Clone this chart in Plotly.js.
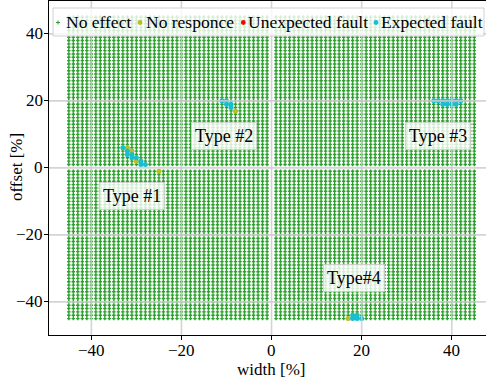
<!DOCTYPE html>
<html>
<head>
<meta charset="utf-8">
<script src="https://cdn.plot.ly/plotly-3.0.1.min.js"></script>
<style>
  html, body { margin: 0; padding: 0; background: #ffffff; }
  #chart { width: 486px; height: 383px; }
</style>
</head>
<body>
<div id="chart"></div>
<script>
// Scanned grid of glitch parameters (width and offset, in percent)
const widthSteps = [
  -45,-44,-43,-42,-41,-40,-39,-38,-37,-36,-35,-34,-33,-32,-31,-30,-29,-28,-27,-26,-25,-24,-23,
  -22,-21,-20,-19,-18,-17,-16,-15,-14,-13,-12,-11,-10,-9,-8,-7,-6,-5,-4,-3,-2,-1,
  1,2,3,4,5,6,7,8,9,10,11,12,13,14,15,16,17,18,19,20,21,22,23,
  24,25,26,27,28,29,30,31,32,33,34,35,36,37,38,39,40,41,42,43,44,45
];
const offsetSteps = [
  -45,-44,-43,-42,-41,-40,-39,-38,-37,-36,-35,-34,-33,-32,-31,-30,-29,-28,-27,-26,-25,-24,-23,
  -22,-21,-20,-19,-18,-17,-16,-15,-14,-13,-12,-11,-10,-9,-8,-7,-6,-5,-4,-3,-2,-1,
  1,2,3,4,5,6,7,8,9,10,11,12,13,14,15,16,17,18,19,20,21,22,23,
  24,25,26,27,28,29,30,31,32,33,34,35,36,37,38,39,40,41,42,43,44,45
];

// Outcomes other than "no effect"
const noResponseWidth  = [-32, -31, -30, -25, -8, 17];
const noResponseOffset = [  6,   5,   2,  -1, 17, -45];

const unexpectedWidth  = [];
const unexpectedOffset = [];

const expectedWidth  = [-33, -32, -32, -31, -31, -30, -29, -29, -28,
                        -11, -10, -10, -9, -9,
                        36, 37, 38, 39, 40, 41, 42, 38, 39, 40, 41,
                        18, 18, 19, 19, 20];
const expectedOffset = [  6,   5,   4,   4,   3,   3,   2,   1,   1,
                         20,  20,  19, 19, 18,
                         20, 20, 20, 20, 20, 20, 20, 19, 19, 19, 19,
                        -44, -45, -44, -45, -45];

// Cluster labels
const clusterLabels = ['Type #1', 'Type #2', 'Type #3', 'Type#4'];
const clusterX = [-30.9, -10.6, 37.0, 18.3];
const clusterY = [-8.5, 9.5, 9.5, -32.8];

const legendNames = ['No effect', 'No responce', 'Unexpected fault', 'Expected fault'];
const tickValues = [-40, -20, 0, 20, 40];
const tickText = ['\u221240', '\u221220', '0', '20', '40'];
const xTitle = 'width [%]';
const yTitle = 'offset [%]';

// Every grid point without a recorded fault counts as "no effect"
const faulty = new Set();
[[noResponseWidth, noResponseOffset], [unexpectedWidth, unexpectedOffset], [expectedWidth, expectedOffset]]
  .forEach(([xs, ys]) => xs.forEach((x, i) => faulty.add(x + ',' + ys[i])));
const noEffectWidth = [], noEffectOffset = [];
widthSteps.forEach(x => offsetSteps.forEach(y => {
  if (!faulty.has(x + ',' + y)) { noEffectWidth.push(x); noEffectOffset.push(y); }
}));

const GREEN = '#2ca02c', OLIVE = '#bcbd22', RED = '#ff0000', CYAN = '#17becf';
const FONT = 'Liberation Serif, Times New Roman, serif';

const M = { l: 49, r: 0, t: 1, b: 48 };
const W = 486, H = 383;
const PW = W - M.l - M.r, PH = H - M.t - M.b;
const px = v => (v - M.l) / PW;            // pixel column -> paper x
const py = v => (H - M.b - v) / PH;        // pixel row -> paper y

const traces = [
  { x: noEffectWidth, y: noEffectOffset, type: 'scatter', mode: 'markers', name: legendNames[0],
    marker: { symbol: 'cross-thin', size: 2.5, color: GREEN, line: { color: GREEN, width: 1.4 } },
    hoverinfo: 'skip' },
  { x: noResponseWidth, y: noResponseOffset, type: 'scatter', mode: 'markers', name: legendNames[1],
    marker: { symbol: 'circle', size: 5, color: OLIVE, line: { width: 0 } } },
  { x: unexpectedWidth, y: unexpectedOffset, type: 'scatter', mode: 'markers', name: legendNames[2],
    marker: { symbol: 'circle', size: 5, color: RED, line: { width: 0 } } },
  { x: expectedWidth, y: expectedOffset, type: 'scatter', mode: 'markers', name: legendNames[3],
    marker: { symbol: 'circle', size: 5, color: CYAN, line: { width: 0 } } }
];

const GRID = 'rgba(205,205,205,0.85)';
const shapes = [];
// grid drawn over the scatter points
tickValues.forEach(v => {
  shapes.push({ type: 'line', layer: 'above', xref: 'x', yref: 'paper', x0: v, x1: v, y0: 0, y1: 1,
                line: { color: GRID, width: 1.6 } });
  shapes.push({ type: 'line', layer: 'above', xref: 'paper', yref: 'y', x0: 0, x1: 1, y0: v, y1: v,
                line: { color: GRID, width: 1.6 } });
});
// legend frame
shapes.push({ type: 'rect', layer: 'above', xref: 'paper', yref: 'paper',
              x0: px(53), x1: px(484), y0: py(36), y1: py(8),
              fillcolor: 'rgba(255,255,255,0.8)', line: { color: 'rgba(204,204,204,0.9)', width: 1 } });
// legend symbols
const legendRowY = 22.5;
const legendMarkX = [58, 140, 243.3, 376];
const legendTextX = [65, 144.5, 246.5, 379.5];
shapes.push({ type: 'line', layer: 'above', xref: 'paper', yref: 'paper',
              x0: px(legendMarkX[0] - 2), x1: px(legendMarkX[0] + 2), y0: py(legendRowY), y1: py(legendRowY),
              line: { color: GREEN, width: 1 } });
shapes.push({ type: 'line', layer: 'above', xref: 'paper', yref: 'paper',
              x0: px(legendMarkX[0]), x1: px(legendMarkX[0]), y0: py(legendRowY - 2), y1: py(legendRowY + 2),
              line: { color: GREEN, width: 1 } });
[OLIVE, RED, CYAN].forEach((c, i) => {
  const cx = legendMarkX[i + 1], r = 2.4;
  shapes.push({ type: 'circle', layer: 'above', xref: 'paper', yref: 'paper',
                x0: px(cx - r), x1: px(cx + r), y0: py(legendRowY + r), y1: py(legendRowY - r),
                fillcolor: c, line: { width: 0 } });
});

const annotations = [];
legendNames.forEach((n, i) => {
  annotations.push({ text: n, xref: 'paper', yref: 'paper', x: px(legendTextX[i]), y: py(legendRowY),
                     xanchor: 'left', yanchor: 'middle', showarrow: false, borderpad: 0,
                     font: { family: FONT, size: 17.5, color: '#000' } });
});
clusterLabels.forEach((t, i) => {
  annotations.push({ text: t, xref: 'x', yref: 'y', x: clusterX[i], y: clusterY[i],
                     xanchor: 'center', yanchor: 'middle', showarrow: false,
                     bgcolor: 'rgba(255,255,255,0.8)', bordercolor: 'rgba(204,204,204,0.8)',
                     borderwidth: 1, borderpad: 3,
                     font: { family: FONT, size: 18, color: '#000' } });
});
// tick labels, set close to the ticks
const TICKFONT = { family: FONT, size: 17, color: '#000' };
tickValues.forEach((v, i) => {
  annotations.push({ text: tickText[i], xref: 'x', yref: 'paper', x: v, y: py(350.5),
                     xanchor: 'center', yanchor: 'middle', showarrow: false, borderpad: 0,
                     font: TICKFONT });
  annotations.push({ text: tickText[i], xref: 'paper', yref: 'y', x: px(44), y: v,
                     xanchor: 'right', yanchor: 'middle', showarrow: false, borderpad: 0,
                     font: TICKFONT });
});
// axis titles
annotations.push({ text: xTitle, xref: 'paper', yref: 'paper', x: px(270.5), y: py(369),
                   xanchor: 'center', yanchor: 'middle', showarrow: false, borderpad: 0,
                   font: { family: FONT, size: 17, color: '#000' } });
annotations.push({ text: yTitle, xref: 'paper', yref: 'paper', x: px(16), y: py(167),
                   xanchor: 'center', yanchor: 'middle', showarrow: false, borderpad: 0, textangle: -90,
                   font: { family: FONT, size: 17, color: '#000' } });

const axisCommon = {
  tickvals: tickValues, ticks: 'outside', ticklen: 4, tickwidth: 1, tickcolor: '#000',
  showticklabels: false,
  showgrid: false, zeroline: false, showline: true, linecolor: '#000', linewidth: 1.2
};

const layout = {
  width: W, height: H, margin: M,
  paper_bgcolor: '#ffffff', plot_bgcolor: '#ffffff',
  showlegend: false,
  xaxis: Object.assign({}, axisCommon, { range: [-49.4, 47.6], mirror: true }),
  yaxis: Object.assign({}, axisCommon, { range: [-49.9, 49.8] }),
  shapes: shapes,
  annotations: annotations
};

Plotly.newPlot('chart', traces, layout, { staticPlot: true, displayModeBar: false });
</script>
</body>
</html>
